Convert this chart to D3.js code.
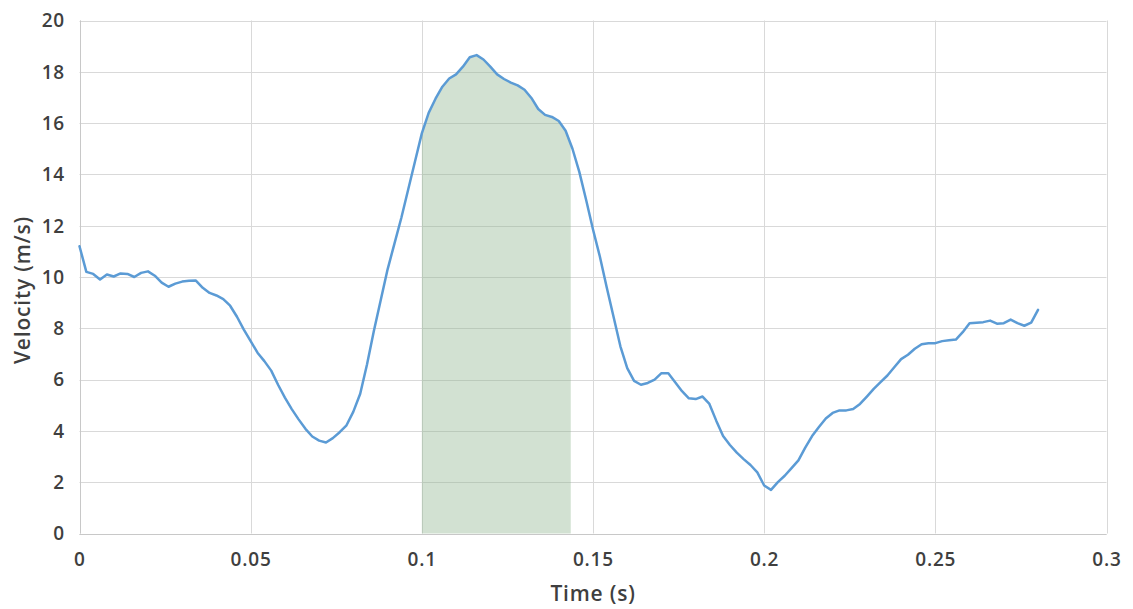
<!DOCTYPE html>
<html>
<head>
<meta charset="utf-8">
<script src="https://cdn.jsdelivr.net/npm/d3@7"></script>
<style>
  html, body { margin: 0; padding: 0; background: #fff; }
  svg text { font-family: "Open Sans", "Noto Sans", sans-serif; fill: #3f3f3f; }
</style>
</head>
<body>
<svg id="chart" width="1133" height="609"></svg>
<script>
// Sample times (s), every 2 ms
const timeStep = 0.002;

// Measured velocity (m/s) at each sample
const velocity = [
  11.2, 10.2, 10.12, 9.9, 10.1, 10.02, 10.14, 10.12, 10.0, 10.16,
  10.22, 10.05, 9.78, 9.62, 9.74, 9.82, 9.85, 9.86, 9.58, 9.38,
  9.28, 9.14, 8.88, 8.45, 7.95, 7.5, 7.05, 6.72, 6.35, 5.8,
  5.3, 4.85, 4.45, 4.08, 3.78, 3.62, 3.55, 3.72, 3.95, 4.22,
  4.75, 5.45, 6.6, 7.9, 9.1, 10.3, 11.3, 12.3, 13.4, 14.5,
  15.6, 16.4, 16.95, 17.42, 17.74, 17.9, 18.2, 18.57, 18.65, 18.48,
  18.2, 17.9, 17.72, 17.58, 17.47, 17.3, 16.98, 16.55, 16.32, 16.24,
  16.08, 15.7, 15.0, 14.1, 13.0, 11.85, 10.8, 9.6, 8.45, 7.3,
  6.45, 5.95, 5.8, 5.87, 6.0, 6.25, 6.25, 5.9, 5.55, 5.27,
  5.24, 5.34, 5.05, 4.4, 3.8, 3.45, 3.15, 2.9, 2.67, 2.38,
  1.87, 1.7, 2.0, 2.25, 2.55, 2.85, 3.35, 3.8, 4.15, 4.48,
  4.7, 4.8, 4.8, 4.85, 5.05, 5.34, 5.64, 5.9, 6.16, 6.48,
  6.8, 6.97, 7.2, 7.38, 7.42, 7.42, 7.5, 7.53, 7.56, 7.85,
  8.2, 8.22, 8.24, 8.3, 8.18, 8.2, 8.34, 8.2, 8.1, 8.22,
  8.72
];

// Highlighted interval (s)
const shadeStart = 0.1;
const shadeEnd = 0.1435;

// Axis ticks
const xTicks = [0, 0.05, 0.1, 0.15, 0.2, 0.25, 0.3];
const yTicks = [0, 2, 4, 6, 8, 10, 12, 14, 16, 18, 20];

const data = velocity.map((v, i) => ({ t: +(i * timeStep).toFixed(3), v }));

const svg = d3.select("#chart");
const W = 1133, H = 609;
const margin = { left: 79.5, right: W - 1106.5, top: 20.5, bottom: H - 533.5 };

const x = d3.scaleLinear().domain([0, 0.3]).range([margin.left, W - margin.right]);
const y = d3.scaleLinear().domain([0, 20]).range([H - margin.bottom, margin.top]);

// Gridlines
const grid = svg.append("g");
grid.selectAll("line.h").data(yTicks).join("line")
  .attr("x1", x(0)).attr("x2", x(0.3))
  .attr("y1", d => Math.round(y(d)) + 0.5).attr("y2", d => Math.round(y(d)) + 0.5)
  .attr("stroke", "#d9d9d9").attr("stroke-width", 1);
grid.selectAll("line.v").data(xTicks).join("line")
  .attr("y1", y(0)).attr("y2", y(20))
  .attr("x1", d => Math.round(x(d)) + 0.5).attr("x2", d => Math.round(x(d)) + 0.5)
  .attr("stroke", "#d9d9d9").attr("stroke-width", 1);

// Shaded area under the curve within the highlighted interval
function valueAt(t) {
  const i = Math.min(Math.floor(t / timeStep), data.length - 2);
  const a = data[i], b = data[i + 1];
  const f = (t - a.t) / (b.t - a.t);
  return a.v + f * (b.v - a.v);
}
const shadePts = [{ t: shadeStart, v: valueAt(shadeStart) }]
  .concat(data.filter(d => d.t > shadeStart + 1e-9 && d.t < shadeEnd - 1e-9))
  .concat([{ t: shadeEnd, v: valueAt(shadeEnd) }]);
const area = d3.area().x(d => x(d.t)).y0(y(0)).y1(d => y(d.v));
svg.append("path").datum(shadePts)
  .attr("d", area)
  .attr("fill", "#8fb58f").attr("fill-opacity", 0.4);

// Axis lines
svg.append("line").attr("x1", x(0)).attr("x2", x(0.3))
  .attr("y1", Math.round(y(0)) + 0.5).attr("y2", Math.round(y(0)) + 0.5)
  .attr("stroke", "#c8c8c8");
svg.append("line").attr("y1", y(0)).attr("y2", y(20))
  .attr("x1", Math.round(x(0)) + 0.5).attr("x2", Math.round(x(0)) + 0.5)
  .attr("stroke", "#c8c8c8");

// Velocity line
const line = d3.line().x(d => x(d.t)).y(d => y(d.v));
svg.append("path").datum(data)
  .attr("d", line)
  .attr("fill", "none")
  .attr("stroke", "#5b9bd5")
  .attr("stroke-width", 2.5)
  .attr("stroke-linejoin", "round")
  .attr("stroke-linecap", "round");

// Tick labels
svg.append("g").selectAll("text").data(yTicks).join("text")
  .attr("x", 65).attr("y", d => y(d))
  .attr("dy", "0.36em")
  .attr("text-anchor", "end")
  .attr("font-size", 19).attr("font-weight", 600)
  .attr("letter-spacing", 0.8)
  .text(d => d);

svg.append("g").selectAll("text").data(xTicks).join("text")
  .attr("x", d => x(d) + 0.4).attr("y", 566)
  .attr("text-anchor", "middle")
  .attr("font-size", 19).attr("font-weight", 600)
  .attr("letter-spacing", 0.8)
  .text(d => d);

// Axis titles
svg.append("text")
  .attr("x", (x(0) + x(0.3)) / 2).attr("y", 601)
  .attr("text-anchor", "middle")
  .attr("font-size", 21).attr("font-weight", 600)
  .attr("letter-spacing", 0.8)
  .text("Time (s)");

svg.append("text")
  .attr("transform", `translate(30, ${(y(0) + y(20)) / 2 + 13}) rotate(-90)`)
  .attr("text-anchor", "middle")
  .attr("font-size", 21).attr("font-weight", 600)
  .attr("letter-spacing", 0.8)
  .text("Velocity (m/s)");
</script>
</body>
</html>
